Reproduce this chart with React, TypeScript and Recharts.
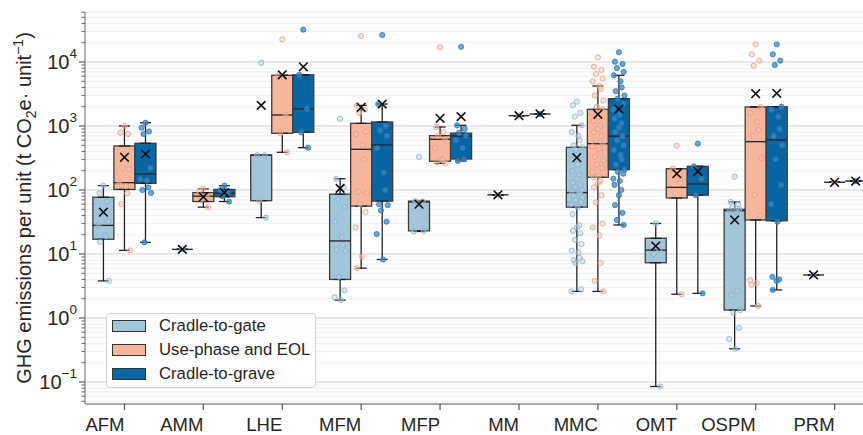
import React from "react";
import {
  ComposedChart,
  Bar,
  Scatter,
  ErrorBar,
  XAxis,
  YAxis,
  CartesianGrid,
} from "recharts";

const categories = ["AFM", "AMM", "LHE", "MFM", "MFP", "MM", "MMC", "OMT", "OSPM", "PRM"];
const hues = ["Cradle-to-gate", "Use-phase and EOL", "Cradle-to-grave"];

const yMajorTicks = [0.1, 1, 10, 100, 1000, 10000];
const yTickExponents = ["−1", "0", "1", "2", "3", "4"];
const yMinorSteps = [2, 3, 4, 5, 6, 7, 8, 9];

// [whisker low, q1, median, q3, whisker high, mean]
const gateStats = [
  [3.8, 17, 28, 77, 117, 45],
  [11.8, 11.8, 11.8, 11.8, 11.8, 11.8],
  [37, 68, 350, 352, 352, 2100],
  [1.9, 4.0, 16, 86, 150, 106],
  [22.5, 23, 65, 67, 67, 60],
  [84, 84, 84, 84, 84, 84],
  [2.6, 54, 91, 464, 1025, 320],
  [0.085, 7.3, 11.5, 17.6, 30, 13.3],
  [0.33, 1.33, 47.5, 50, 65, 34],
  [4.7, 4.7, 4.7, 4.7, 4.7, 4.7],
];
const useStats = [
  [11.4, 102, 130, 487, 1000, 324],
  [54, 66, 80, 91, 104, 78],
  [388, 769, 1486, 6190, 6190, 6300],
  [6.0, 56, 432, 1100, 2100, 1960],
  [261, 281, 620, 706, 964, 1320],
  [1450, 1450, 1450, 1450, 1450, 1450],
  [2.6, 158, 529, 1823, 4217, 1522],
  [2.35, 75, 110, 215, 215, 180],
  [1.54, 34, 569, 1982, 1982, 3200],
  [132, 132, 132, 132, 132, 132],
];
const graveStats = [
  [15.2, 127, 178, 537, 1126, 365],
  [66, 78.5, 89, 102, 117, 91],
  [458, 797, 1843, 6300, 6300, 8400],
  [8.2, 67, 506, 1155, 2200, 2200],
  [285, 305, 698, 773, 1025, 1400],
  [1540, 1540, 1540, 1540, 1540, 1540],
  [28.4, 208, 692, 2670, 6190, 1843],
  [2.43, 83, 124, 234, 234, 196],
  [2.74, 33, 606, 2000, 2000, 3240],
  [138, 138, 138, 138, 138, 138],
];

// individual observations (strip points)
const gatePoints = [
  [117, 89, 66, 42, 32.5, 28, 19.8, 18.6, 15.5, 3.8],
  [11.8],
  [9760, 352, 350, 68, 37],
  [1290, 150, 110, 72, 54, 32, 18.3, 13.8, 11.6, 11.2, 4.4, 2.7, 2.1, 1.9],
  [328, 67, 66, 64, 23, 22.5],
  [84],
  [2400, 2100, 1600, 1400, 1025, 800, 700, 600, 500, 464, 420, 350, 300, 250, 200, 170, 150, 130,
    120, 110, 100, 95, 91, 88, 80, 75, 70, 65, 60, 54, 42, 28, 26, 23, 21, 16.6, 14.3, 11.3, 10.5,
    8.7, 8, 7.7, 7.2, 2.8, 2.6],
  [30, 13, 11.5, 10, 0.085],
  [161, 65, 60, 55, 50, 48, 47, 2.67, 2.3, 1.33, 1.2, 0.7, 0.47, 0.33],
  [4.7],
];
const usePoints = [
  [1000, 786, 750, 223, 210, 130, 115, 89, 60, 11.4],
  [104, 95, 80, 70, 54],
  [22600, 6190, 1486, 769, 388],
  [25500, 2100, 1800, 1600, 815, 750, 500, 300, 94, 90, 60, 45, 26, 9.1, 6.0],
  [17000, 964, 800, 700, 620, 450, 300, 290, 270, 261],
  [1450],
  [11800, 8450, 7500, 6500, 5500, 5000, 4217, 3800, 3000, 2500, 2000, 1823, 1600, 1400, 1200, 1000,
    900, 800, 700, 600, 529, 480, 420, 380, 330, 290, 250, 220, 190, 165, 158, 137, 128, 110, 83,
    64, 30, 26, 19.5, 7.2, 3.8, 2.6],
  [493, 215, 150, 90, 2.35],
  [18900, 13200, 10500, 8760, 1982, 1600, 1150, 866, 700, 316, 84, 40, 3.9, 3.5, 3.3, 1.54],
  [132],
];
const gravePoints = [
  [1126, 941, 820, 750, 220, 148, 140, 110, 100, 90, 15.2],
  [117, 100, 90, 80, 66],
  [32000, 6300, 1843, 797, 458],
  [26400, 2200, 1000, 850, 700, 450, 186, 100, 60, 58, 48, 32, 20.5, 8.2],
  [17300, 1025, 900, 780, 700, 600, 450, 300, 285],
  [1540],
  [14200, 10100, 9300, 8000, 7000, 6190, 5000, 4000, 3500, 3000, 2670, 2200, 1800, 1500, 1300, 1100,
    950, 800, 692, 600, 500, 420, 350, 300, 250, 208, 193, 180, 150, 138, 120, 100, 83, 58, 44, 34,
    28.4],
  [530, 234, 150, 83, 2.43],
  [18900, 13200, 10500, 9000, 2000, 1800, 1400, 900, 700, 500, 300, 120, 60, 32, 4.4, 4.0, 3.8, 2.74],
  [138],
];

const W = 863;
const H = 435;
const FONT = '"Liberation Sans", Arial, Helvetica, sans-serif';
const TEXT = "#262626";
const SPINE = "#8c8c8c";
const EDGE = "#3c3c3c";
const FILLS = ["#a3c5da", "#f5b69c", "#0a66a3"];
const DOT_FILL = ["#b9d3e6", "#f7c6b2", "#3e88c4"];
const DOT_EDGE = ["#86aecb", "#e59b7e", "#2d77b3"];
const HUE_SHIFT = [-0.2667, 0, 0.2667];
const BOX = 21;
const JITTER = [0, -0.05, 0.045, -0.025, 0.06, -0.065, 0.02, 0.035, -0.04, 0.07, -0.015, 0.055, -0.07, 0.01, -0.055, 0.03];

const Y_MIN = 0.0453;
const Y_MAX = 60400;

const statSets = [gateStats, useStats, graveStats];
const pointSets = [gatePoints, usePoints, gravePoints];

const boxRows = statSets.flatMap((stats, h) =>
  stats.map((s, c) => ({
    x: c + HUE_SHIFT[h],
    hue: h,
    lo: s[0],
    q1: s[1],
    med: s[2],
    q3: s[3],
    hi: s[4],
    mean: s[5],
  }))
);

const pointRows = pointSets.flatMap((lists, h) =>
  lists.flatMap((vals, c) =>
    vals.map((v, i) => ({ px: c + HUE_SHIFT[h] + JITTER[i % JITTER.length], v, hue: h }))
  )
);

const yMinorTicks = [0.01, ...yMajorTicks]
  .flatMap((d) => yMinorSteps.map((m) => m * d))
  .filter((v) => v > Y_MIN && v < Y_MAX);
const yAllTicks = [...yMajorTicks, ...yMinorTicks].sort((a, b) => a - b);

const lowerWhisker = (p: any) => {
  const r = p.payload ?? p;
  return [r.q1 - r.lo, 0];
};
const upperWhisker = (p: any) => {
  const r = p.payload ?? p;
  return [0, r.hi - r.q3];
};

const YTick = (props: any) => {
  const { x, y, payload } = props;
  const idx = yMajorTicks.indexOf(payload.value);
  const major = idx >= 0;
  return (
    <g>
      <line x1={x} x2={x - (major ? 6 : 3.5)} y1={y} y2={y} stroke="#555" strokeWidth={major ? 1.2 : 0.9} />
      {major && (
        <text x={x - 8} y={y} dy={7} textAnchor="end" fontSize={20} fill={TEXT} fontFamily={FONT}>
          10
          <tspan dy={-11} fontSize={13.5}>
            {yTickExponents[idx]}
          </tspan>
        </text>
      )}
    </g>
  );
};

const XTick = (props: any) => {
  const { x, y, payload } = props;
  return (
    <text x={x} y={y} dy={18.5} textAnchor="end" fontSize={18.5} fill={TEXT} fontFamily={FONT}>
      {categories[payload.value]}
    </text>
  );
};

const YLabel = () => (
  <text transform="translate(31, 208) rotate(-90)" textAnchor="middle" fontSize={20} fill={TEXT} fontFamily={FONT}>
    GHG emissions per unit (t CO
    <tspan dy={5} fontSize={14}>2</tspan>
    <tspan dy={-5}>e· unit</tspan>
    <tspan dy={-8} fontSize={14}>−1</tspan>
    <tspan dy={8}>)</tspan>
  </text>
);

const BoxShape = (props: any) => {
  const { x, y, width, height, payload } = props;
  if (!(height > 0.5)) return <g />;
  return (
    <rect x={x} y={y} width={width} height={height} fill={FILLS[payload.hue]} stroke={EDGE} strokeWidth={1.3} />
  );
};

const MedianShape = (props: any) => {
  const { cx, cy } = props;
  return <line x1={cx - BOX / 2} x2={cx + BOX / 2} y1={cy} y2={cy} stroke="#2a2a2a" strokeWidth={1.4} />;
};

const MeanShape = (props: any) => {
  const { cx, cy } = props;
  const s = 4.3;
  return (
    <path
      d={`M${cx - s},${cy - s}L${cx + s},${cy + s}M${cx - s},${cy + s}L${cx + s},${cy - s}`}
      stroke="#111"
      strokeWidth={1.6}
      fill="none"
    />
  );
};

const DotShape = (props: any) => {
  const { cx, cy, payload } = props;
  return (
    <circle
      cx={cx}
      cy={cy}
      r={2.6}
      fill={DOT_FILL[payload.hue]}
      fillOpacity={payload.hue === 2 ? 0.75 : 0.45}
      stroke={DOT_EDGE[payload.hue]}
      strokeOpacity={0.85}
      strokeWidth={0.9}
    />
  );
};

const NoShape = () => <g />;

const LegendBox = () => (
  <div
    style={{
      position: "absolute",
      left: 106,
      top: 313,
      width: 210,
      height: 75,
      border: "1px solid #d4d4d4",
      borderRadius: 4,
      background: "rgba(255,255,255,0.85)",
      fontFamily: FONT,
      fontSize: 16.7,
      color: TEXT,
      boxSizing: "border-box",
      paddingTop: 0,
    }}
  >
    {hues.map((name, i) => (
      <div key={name} style={{ display: "flex", alignItems: "center", height: 24 }}>
        <div
          style={{
            marginLeft: 5,
            width: 34,
            height: 12,
            boxSizing: "border-box",
            border: "1px solid #333",
            background: FILLS[i],
          }}
        />
        <span style={{ marginLeft: 13, lineHeight: "24px" }}>{name}</span>
      </div>
    ))}
  </div>
);

export default function App() {
  return (
    <div style={{ position: "absolute", left: 0, top: 0, width: W, height: H, background: "#fff", overflow: "hidden" }}>
      <ComposedChart
        width={W}
        height={H}
        data={boxRows}
        margin={{ top: 12, right: 0, bottom: 0, left: 0 }}
        barGap={0}
        barCategoryGap={0}
      >
        <CartesianGrid vertical={false} horizontalValues={yMinorTicks} stroke="#eeeeee" strokeWidth={0.9} />
        <CartesianGrid vertical={false} horizontalValues={yMajorTicks} stroke="#e1e1e1" strokeWidth={1.4} />
        <XAxis
          dataKey="x"
          type="number"
          domain={[-0.5, 9.36]}
          allowDataOverflow
          ticks={categories.map((_, i) => i)}
          interval={0}
          tick={<XTick />}
          tickSize={6}
          tickMargin={2}
          tickLine={{ stroke: "#555", strokeWidth: 1.2 }}
          axisLine={{ stroke: SPINE, strokeWidth: 1.3 }}
          height={31}
        />
        <XAxis
          xAxisId="pts"
          dataKey="px"
          type="number"
          orientation="top"
          domain={[-0.5, 9.36]}
          allowDataOverflow
          tick={false}
          tickLine={false}
          axisLine={{ stroke: SPINE, strokeWidth: 1.3 }}
          height={0}
        />
        <YAxis
          type="number"
          scale="log"
          domain={[Y_MIN, Y_MAX]}
          allowDataOverflow
          ticks={yAllTicks}
          interval={0}
          tick={<YTick />}
          tickLine={false}
          tickSize={0}
          tickMargin={0}
          width={85}
          axisLine={{ stroke: SPINE, strokeWidth: 1.3 }}
          label={<YLabel />}
        />
        <Scatter data={boxRows} dataKey="q1" shape={NoShape} isAnimationActive={false} legendType="none">
          <ErrorBar dataKey={lowerWhisker} direction="y" width={5.5} stroke="#222" strokeWidth={1.3} isAnimationActive={false} />
        </Scatter>
        <Scatter data={boxRows} dataKey="q3" shape={NoShape} isAnimationActive={false} legendType="none">
          <ErrorBar dataKey={upperWhisker} direction="y" width={5.5} stroke="#222" strokeWidth={1.3} isAnimationActive={false} />
        </Scatter>
        <Bar
          dataKey={(r: any) => [r.q1, r.q3]}
          barSize={BOX}
          shape={<BoxShape />}
          isAnimationActive={false}
          legendType="none"
        />
        <Scatter data={boxRows} dataKey="med" shape={MedianShape} isAnimationActive={false} legendType="none" />
        <Scatter
          xAxisId="pts"
          data={pointRows}
          dataKey="v"
          shape={DotShape}
          isAnimationActive={false}
          legendType="none"
        />
        <Scatter data={boxRows} dataKey="mean" shape={MeanShape} isAnimationActive={false} legendType="none" />
      </ComposedChart>
      <LegendBox />
    </div>
  );
}
